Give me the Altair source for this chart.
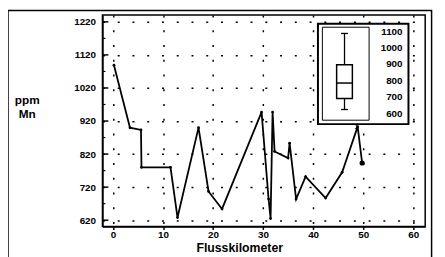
import altair as alt
import pandas as pd

# --- data ---
km = [0.2, 3.4, 5.6, 5.7, 11.5, 12.9, 17.1, 19.1, 21.8, 29.7, 31.1, 31.5,
      31.9, 32.3, 35.0, 35.3, 36.6, 38.5, 42.5, 45.8, 48.9, 49.8]
mn = [1089, 900, 893, 780, 780, 628, 900, 707, 654, 947, 684, 625,
      947, 828, 808, 853, 684, 752, 687, 765, 903, 793]
x_ticks = [0, 10, 20, 30, 40, 50, 60]
y_ticks = [620, 720, 820, 920, 1020, 1120, 1220]
y_minor = [670, 770, 870, 970, 1070, 1170]
inset_labels = [1100, 1000, 900, 800, 700, 600]

FONT = "Liberation Sans"
W, H = 328, 215

df = pd.DataFrame({"km": km, "mn": mn, "i": list(range(len(km)))})
one = pd.DataFrame({"a": [0]})

xs = alt.Scale(domain=[-2.1, 62.4], nice=False, zero=False)
ys = alt.Scale(domain=[601, 1241], nice=False, zero=False)
ins = alt.Scale(domain=[600, 1100], range=[100.3, 17], nice=False, zero=False)

x_axis = alt.Axis(values=x_ticks, format="d", grid=True, gridDash=[2, 13], gridColor="black",
                  gridWidth=1.5, gridOpacity=1, ticks=True, tickSize=3, tickColor="black",
                  tickWidth=1.5, labelPadding=0, labelFontSize=10, labelFont=FONT,
                  labelFontWeight="bold", labelColor="black", domainColor="black",
                  domainWidth=1.5, title="Flusskilometer", titleFont=FONT,
                  titleFontSize=12.5, titleFontWeight="bold", titleColor="black",
                  titleX=139, titleY=25, titleAlign="center", titleBaseline="alphabetic")
y_axis = alt.Axis(values=y_ticks, format="d", grid=True, gridDash=[2, 13], gridColor="black",
                  gridWidth=1.5, gridOpacity=1, ticks=False, tickSize=0, labelPadding=7,
                  labelFontSize=10, labelFont=FONT, labelFontWeight="bold",
                  labelColor="black", domainColor="black", domainWidth=1.5,
                  title=["ppm", "Mn"], titleFont=FONT, titleFontSize=12,
                  titleFontWeight="bold", titleColor="black", titleAngle=0,
                  titleAlign="center", titleBaseline="alphabetic", titleX=-77,
                  titleY=90, titleLineHeight=14)

X = alt.X("km:Q", scale=xs, axis=x_axis)
Y = alt.Y("mn:Q", scale=ys, axis=y_axis)

frame = alt.Chart(one).mark_rect(fill="white", fillOpacity=0, stroke="black",
                                 strokeWidth=1.5).encode(
    x=alt.value(-96), x2=alt.value(334.5), y=alt.value(-4.5), y2=alt.value(262))

line = alt.Chart(df).mark_line(color="black", strokeWidth=1.8).encode(
    x=X, y=Y, order="i:Q")
pts = alt.Chart(df).mark_point(filled=True, color="black", size=8, opacity=1).encode(
    x=X, y=Y)
last = alt.Chart(df).transform_filter(alt.datum.i == len(km) - 1).mark_point(
    filled=True, color="black", size=28, opacity=1).encode(x=X, y=Y)
maj = alt.Chart(pd.DataFrame({"mn": y_ticks})).mark_rule(color="black", strokeWidth=1.5).encode(
    x=alt.value(0), x2=alt.value(6), y=Y)
mnr = alt.Chart(pd.DataFrame({"mn": y_minor})).mark_rule(color="black", strokeWidth=1.2).encode(
    x=alt.value(0), x2=alt.value(3), y=Y)

main = alt.layer(line, pts, last, maj, mnr, frame)

# --- inset box plot ---
outer = alt.Chart(one).mark_rect(fill="white", stroke="black", strokeWidth=2).encode(
    x=alt.value(219), x2=alt.value(311), y=alt.value(9), y2=alt.value(111))
inner = alt.Chart(one).mark_rect(fill="white", fillOpacity=0, stroke="black", strokeWidth=1).encode(
    x=alt.value(223.5), x2=alt.value(271), y=alt.value(12.5), y2=alt.value(107))

stats = alt.Chart(df).transform_aggregate(
    lo="min(mn)", hi="max(mn)", q1="q1(mn)", q3="q3(mn)", med="median(mn)")
whisk = stats.mark_rule(color="black", strokeWidth=1.3).encode(
    x=alt.value(246), y=alt.Y("lo:Q", scale=ins, axis=None), y2="hi:Q")
box = stats.mark_rect(fill="white", stroke="black", strokeWidth=1.5).encode(
    x=alt.value(238), x2=alt.value(254), y=alt.Y("q1:Q", scale=ins, axis=None), y2="q3:Q")
med = stats.mark_rule(color="black", strokeWidth=1.5).encode(
    x=alt.value(238), x2=alt.value(254), y=alt.Y("med:Q", scale=ins, axis=None))
cap_lo = stats.mark_rule(color="black", strokeWidth=1.3).encode(
    x=alt.value(242.5), x2=alt.value(249.5), y=alt.Y("lo:Q", scale=ins, axis=None))
cap_hi = stats.mark_rule(color="black", strokeWidth=1.3).encode(
    x=alt.value(242.5), x2=alt.value(249.5), y=alt.Y("hi:Q", scale=ins, axis=None))
labels = alt.Chart(pd.DataFrame({"v": inset_labels})).mark_text(
    align="right", baseline="middle", font=FONT, fontSize=10, fontWeight="bold",
    color="black").encode(
    x=alt.value(305), y=alt.Y("v:Q", scale=ins, axis=None), text=alt.Text("v:Q", format="d"))
one_lbl = alt.Chart(one).mark_text(text="1", font=FONT, fontSize=7, fontWeight="bold",
                                   color="black").encode(x=alt.value(258), y=alt.value(114))

inset = alt.layer(outer, inner, whisk, box, med, cap_lo, cap_hi, labels, one_lbl)

chart = alt.layer(main, inset).resolve_scale(y="independent").properties(
    width=W, height=H,
    autosize=alt.AutoSizeParams(type="none"),
    padding={"left": 96, "top": 5, "right": 12, "bottom": 29},
    background="white",
).configure_view(stroke="black", strokeWidth=1.5)

chart.save("out.html", embed_options={"renderer": "svg", "actions": False})
